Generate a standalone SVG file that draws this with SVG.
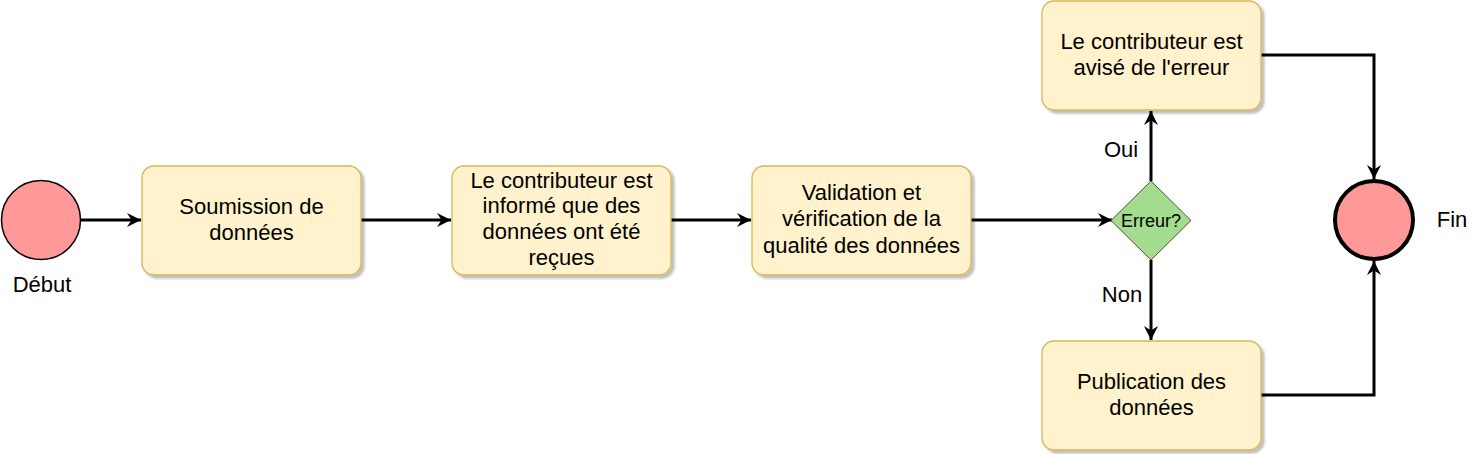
<svg xmlns="http://www.w3.org/2000/svg" width="1472" height="454" viewBox="0 0 1472 454">
<defs>
<style>
.box{fill:#FFF2CC;stroke:#D6B656;stroke-width:1.3}
.t{font-family:"Liberation Sans",Arial,sans-serif;font-size:22px;fill:#000;text-anchor:middle}
.small{font-size:18px}
.edge{fill:none;stroke:#000;stroke-width:3}
</style>
<filter id="sh" x="-10%" y="-10%" width="130%" height="130%">
<feGaussianBlur in="SourceAlpha" stdDeviation="1.2"/>
<feOffset dx="3" dy="3"/>
<feComponentTransfer><feFuncA type="linear" slope="0.25"/></feComponentTransfer>
<feMerge><feMergeNode/><feMergeNode in="SourceGraphic"/></feMerge>
</filter>
<marker id="arr" markerUnits="userSpaceOnUse" markerWidth="16" markerHeight="16" viewBox="0 0 16 16" refX="14" refY="8" orient="auto">
<path d="M0,1 L14,8 L0,15 L4.5,8 Z" fill="#000"/>
</marker>
</defs>
<g id="connectors">
<path class="edge" d="M81,220 H141" marker-end="url(#arr)"/>
<path class="edge" d="M361,220 H451" marker-end="url(#arr)"/>
<path class="edge" d="M671,220 H751" marker-end="url(#arr)"/>
<path class="edge" d="M971,220 H1112" marker-end="url(#arr)"/>
<path class="edge" d="M1151,181 V111" marker-end="url(#arr)"/>
<path class="edge" d="M1151,260 V340" marker-end="url(#arr)"/>
<path class="edge" d="M1261,55 H1374 V179" marker-end="url(#arr)"/>
<path class="edge" d="M1261,395 H1374 V261" marker-end="url(#arr)"/>
<text class="t" x="1121" y="157">Oui</text>
<text class="t" x="1122" y="302">Non</text>
</g>
<g id="debut">
<circle cx="41" cy="220" r="39.5" fill="#FF9999" stroke="#000" stroke-width="1.5"/>
<text class="t" x="42" y="292">Début</text>
</g>
<g id="soumission">
<rect class="box" x="142" y="166" width="219" height="109" rx="12" filter="url(#sh)"/>
<text class="t" x="251.5" y="214">Soumission de</text>
<text class="t" x="251.5" y="240">données</text>
</g>
<g id="informe">
<rect class="box" x="452" y="166" width="219" height="109" rx="12" filter="url(#sh)"/>
<text class="t" x="561.5" y="188">Le contributeur est</text>
<text class="t" x="561.5" y="213">informé que des</text>
<text class="t" x="561.5" y="239">données ont été</text>
<text class="t" x="561.5" y="265">reçues</text>
</g>
<g id="validation">
<rect class="box" x="752" y="166" width="219" height="109" rx="12" filter="url(#sh)"/>
<text class="t" x="861.5" y="200">Validation et</text>
<text class="t" x="861.5" y="226">vérification de la</text>
<text class="t" x="861.5" y="253">qualité des données</text>
</g>
<g id="erreur">
<path d="M1151,181 L1191,220.5 L1151,260 L1111,220.5 Z" fill="#A2DC8E" stroke="#5C4A3A" stroke-width="1"/>
<text class="t small" x="1151" y="227">Erreur?</text>
</g>
<g id="avise">
<rect class="box" x="1042" y="1" width="219" height="109" rx="12" filter="url(#sh)"/>
<text class="t" x="1151.5" y="49">Le contributeur est</text>
<text class="t" x="1151.5" y="75">avisé de l'erreur</text>
</g>
<g id="publication">
<rect class="box" x="1042" y="341" width="219" height="109" rx="12" filter="url(#sh)"/>
<text class="t" x="1151.5" y="389">Publication des</text>
<text class="t" x="1151.5" y="415">données</text>
</g>
<g id="fin">
<circle cx="1374" cy="220" r="39" fill="#FF9999" stroke="#000" stroke-width="4"/>
<text class="t" x="1452" y="227">Fin</text>
</g>
</svg>
